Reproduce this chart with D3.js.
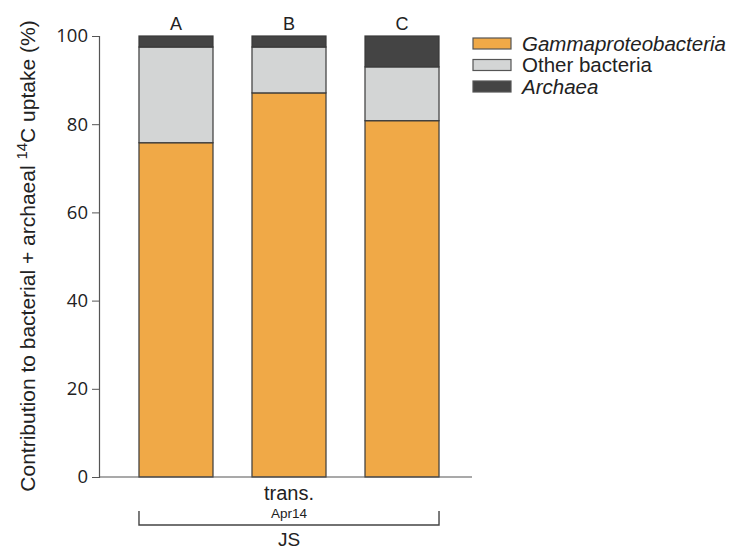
<!doctype html>
<html>
<head>
<meta charset="utf-8">
<script src="https://cdn.jsdelivr.net/npm/d3@7"></script>
<style>
html,body{ margin:0; background:#fff; overflow:hidden; }
text{ font-family:"Liberation Sans", Arial, sans-serif; fill:#222; }
.tick text{ font-family:"Open Sans", "Noto Sans", sans-serif; }
</style>
</head>
<body>
<script>
// values (%)
var samples = ["A", "B", "C"];
var gamma   = [75.8, 87.1, 80.8];
var other   = [21.7, 10.4, 12.2];
var archaea = [2.5, 2.5, 7.0];
var seriesNames = ["Gammaproteobacteria", "Other bacteria", "Archaea"];
var seriesItalic = [true, false, true];
var colors = ["#f0a947", "#d3d5d5", "#444444"];
var yTicks = [0, 20, 40, 60, 80, 100];

var w = 735, h = 549;
var svg = d3.select("body").append("svg")
    .attr("width", w).attr("height", h);

var x = d3.scaleBand().domain(samples).range([120, 458]).paddingInner(0.345).paddingOuter(0.168);
var y = d3.scaleLinear().domain([0, 100]).range([477, 36]);

var rows = samples.map(function(s, i){
    return {sample: s, g: gamma[i], o: other[i], a: archaea[i]};
});
var stack = d3.stack().keys(["g", "o", "a"])(rows);

// y axis
var yAxis = svg.append("g")
    .attr("transform", "translate(99,0)")
    .call(d3.axisLeft(y).tickValues(yTicks).tickSize(7).tickPadding(4));
yAxis.select(".domain").attr("stroke", "#555").attr("stroke-width", 1.2);
yAxis.selectAll(".tick line").attr("stroke", "#555");
yAxis.selectAll(".tick text").style("font-size", "18.5px").attr("fill", "#2a2a2a");

// bars
svg.append("g").selectAll("g")
    .data(stack).enter().append("g")
    .attr("fill", function(d, i){ return colors[i]; })
    .selectAll("rect")
    .data(function(d){ return d; }).enter().append("rect")
        .attr("x", function(d){ return x(d.data.sample); })
        .attr("width", x.bandwidth())
        .attr("y", function(d){ return y(d[1]); })
        .attr("height", function(d){ return y(d[0]) - y(d[1]); })
        .attr("stroke", "#3a3a3a")
        .attr("stroke-width", 1.2);

// baseline
svg.append("line")
    .attr("x1", 99).attr("x2", 472)
    .attr("y1", y(0)).attr("y2", y(0))
    .attr("stroke", "#555").attr("stroke-width", 1.2);

// sample letters
svg.selectAll(".lab").data(samples).enter().append("text")
    .attr("x", function(d){ return x(d) + x.bandwidth()/2; })
    .attr("y", 30)
    .attr("text-anchor", "middle")
    .style("font-size", "18px")
    .text(function(d){ return d; });

// y label
svg.append("text")
    .attr("transform", "translate(35,256) rotate(-90)")
    .attr("text-anchor", "middle")
    .style("font-size", "21px")
    .html('Contribution to bacterial + archaeal <tspan baseline-shift="super" font-size="15px">14</tspan>C uptake (%)');

// group labels under the axis
var gx1 = x("A"), gx2 = x("C") + x.bandwidth(), gmid = (gx1 + gx2)/2;
svg.append("text").attr("x", gmid).attr("y", 500)
    .attr("text-anchor", "middle").style("font-size", "20px").text("trans.");
svg.append("text").attr("x", gmid).attr("y", 518)
    .attr("text-anchor", "middle").style("font-size", "13.5px").text("Apr14");
svg.append("path")
    .attr("d", "M" + gx1 + ",511V525H" + gx2 + "V511")
    .attr("fill", "none").attr("stroke", "#444").attr("stroke-width", 1.4);
svg.append("text").attr("x", gmid).attr("y", 546)
    .attr("text-anchor", "middle").style("font-size", "19px").text("JS");

// legend
var leg = svg.append("g").attr("transform", "translate(473,38)");
var li = leg.selectAll("g").data(seriesNames).enter().append("g")
    .attr("transform", function(d, i){ return "translate(0," + (i*21.5) + ")"; });
li.append("rect")
    .attr("width", 38).attr("height", 11)
    .attr("fill", function(d, i){ return colors[i]; })
    .attr("stroke", "#555").attr("stroke-width", 1.2);
li.append("text")
    .attr("x", 49).attr("y", 12.5)
    .style("font-size", "20.5px")
    .style("font-style", function(d, i){ return seriesItalic[i] ? "italic" : "normal"; })
    .text(function(d){ return d; });
</script>
</body>
</html>
